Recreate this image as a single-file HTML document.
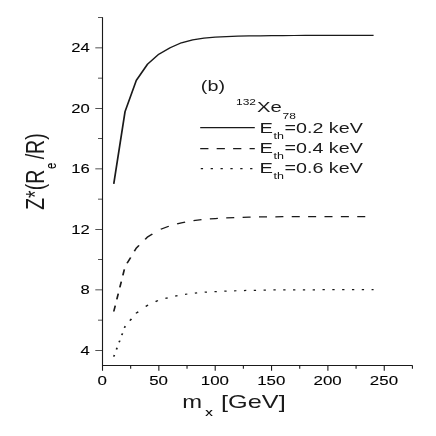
<!DOCTYPE html><html><head><meta charset="utf-8"><style>html,body{margin:0;padding:0;background:#fff;overflow:hidden}svg{display:block;will-change:transform;filter:grayscale(1)}text{font-family:"Liberation Sans",sans-serif;fill:#1a1a1a}text.s{fill:#000;stroke:#000;stroke-width:0.1px}text.x{fill:#111}</style></head><body>
<svg width="436" height="436" viewBox="0 0 436 436">
<rect width="436" height="436" fill="#fff"/>
<g transform="scale(1.36,1)" fill="none" stroke="#1a1a1a" stroke-width="0.82">
<path d="M75.37,17.3V365.50H303.38"/>
<path stroke-width="0.8" d="M75.37,350.35h-5.30M75.37,320.10h-3.30M75.37,289.85h-5.30M75.37,259.60h-3.30M75.37,229.35h-5.30M75.37,199.10h-3.30M75.37,168.85h-5.30M75.37,138.60h-3.30M75.37,108.35h-5.30M75.37,78.10h-3.30M75.37,47.85h-5.30M75.37,17.60h-3.30M75.37,365.50v5.20M96.08,365.50v3.20M116.80,365.50v5.20M137.52,365.50v3.20M158.24,365.50v5.20M178.95,365.50v3.20M199.67,365.50v5.20M220.39,365.50v3.20M241.10,365.50v5.20M261.82,365.50v3.20M282.54,365.50v5.20M303.25,365.50v3.20"/>
<polyline stroke-width="1.25" stroke-linejoin="round" points="83.65,183.90 91.94,111.65 100.23,80.40 108.51,64.15 116.80,54.20 125.09,47.70 133.37,42.80 141.66,39.80 149.95,38.10 158.24,37.20 166.52,36.60 174.81,36.20 183.10,35.95 191.38,35.80 199.67,35.65 207.96,35.55 216.24,35.50 224.53,35.45 232.82,35.40 241.10,35.40 249.39,35.40 257.68,35.40 265.96,35.40 274.69,35.40"/>
<path stroke-width="1.25" d="M83.65,311.50L84.75,305.60M85.88,299.46L86.97,293.56M88.11,287.42L89.20,281.52M90.34,275.38L91.43,269.48M93.44,263.34L96.07,257.44M98.80,251.30L100.23,248.10L102.23,245.40M106.77,239.26L108.51,236.90L112.05,233.95M118.19,229.29L124.09,226.30M130.23,223.94L133.37,222.80L136.13,222.13M142.27,220.70L148.17,219.70M154.31,218.98L158.24,218.60L160.21,218.43M166.35,217.91L166.52,217.90L172.25,217.55M178.39,217.27L183.10,217.10L184.29,217.07M190.43,216.92L191.38,216.90L196.33,216.84M202.47,216.77L207.96,216.70L208.37,216.70M214.51,216.66L216.24,216.65L220.41,216.62M226.55,216.60L232.45,216.60M238.59,216.60L241.10,216.60L244.49,216.60M250.63,216.60L256.53,216.60M262.67,216.60L265.96,216.60L268.57,216.60"/>
<path stroke-width="1.25" d="M83.65,356.70L84.12,355.00M85.63,349.48L86.09,347.78M87.60,342.26L88.07,340.56M89.58,335.04L90.04,333.34M91.55,327.82L91.94,326.40L92.12,326.12M95.55,320.60L96.61,318.90M100.05,313.38L100.23,313.10L101.65,311.76M107.17,306.57L108.51,305.30L108.87,305.08M114.39,301.61L116.09,300.55M121.61,298.42L123.31,297.82M128.83,296.12L130.53,295.62M136.05,294.32L137.75,294.01M143.27,293.09L144.97,292.86M150.49,292.16L152.19,292.04M157.71,291.64L158.24,291.60L159.41,291.53M164.93,291.20L166.52,291.10L166.63,291.09M172.15,290.83L173.85,290.75M179.37,290.53L181.07,290.47M186.59,290.32L188.29,290.27M193.81,290.14L195.51,290.10M201.03,289.98L202.73,289.96M208.25,289.90L209.95,289.89M215.47,289.85L216.24,289.85L217.17,289.84M222.69,289.81L224.39,289.80M229.91,289.77L231.61,289.76M237.13,289.72L238.83,289.71M244.35,289.70L246.05,289.70M251.57,289.70L253.27,289.70M258.79,289.70L260.49,289.70M266.01,289.70L267.71,289.70M273.23,289.70L274.69,289.70"/>
<path stroke-width="1.25" d="M147.21,127.5H187.35"/>
<path stroke-width="1.25" d="M147.21,148.50L153.26,148.50M159.31,148.50L165.36,148.50M171.41,148.50L177.46,148.50M183.51,148.50L187.35,148.50"/>
<path stroke-width="1.25" d="M147.61,168.50L149.31,168.50M154.87,168.50L156.57,168.50M162.13,168.50L163.83,168.50M169.39,168.50L171.09,168.50M176.65,168.50L178.35,168.50M183.91,168.50L185.61,168.50"/>
</g>
<text transform="translate(102.20,385.00) scale(1.29,1)" font-size="13.1" text-anchor="middle" class="s">0</text>
<text transform="translate(158.55,385.00) scale(1.29,1)" font-size="13.1" text-anchor="middle" class="s">50</text>
<text transform="translate(214.90,385.00) scale(1.29,1)" font-size="13.1" text-anchor="middle" class="s">100</text>
<text transform="translate(271.25,385.00) scale(1.29,1)" font-size="13.1" text-anchor="middle" class="s">150</text>
<text transform="translate(327.60,385.00) scale(1.29,1)" font-size="13.1" text-anchor="middle" class="s">200</text>
<text transform="translate(383.95,385.00) scale(1.29,1)" font-size="13.1" text-anchor="middle" class="s">250</text>
<text transform="translate(89.80,354.90) scale(1.27,1)" font-size="13.1" text-anchor="end" class="s">4</text>
<text transform="translate(89.80,294.40) scale(1.27,1)" font-size="13.1" text-anchor="end" class="s">8</text>
<text transform="translate(89.80,233.90) scale(1.27,1)" font-size="13.1" text-anchor="end" class="s">12</text>
<text transform="translate(89.80,173.40) scale(1.27,1)" font-size="13.1" text-anchor="end" class="s">16</text>
<text transform="translate(89.80,112.90) scale(1.27,1)" font-size="13.1" text-anchor="end" class="s">20</text>
<text transform="translate(89.80,52.40) scale(1.27,1)" font-size="13.1" text-anchor="end" class="s">24</text>
<text transform="translate(200.80,91.30) scale(1.32,1)" font-size="15" text-anchor="start">(b)</text>
<text transform="translate(236.00,105.00) scale(1.36,1)" font-size="8.8" text-anchor="start" class="x">132</text>
<text transform="translate(257.00,112.10) scale(1.31,1)" font-size="15.5" text-anchor="start">Xe</text>
<text transform="translate(282.50,119.00) scale(1.36,1)" font-size="8.8" text-anchor="start" class="x">78</text>
<text transform="translate(259.50,133.00) scale(1.38,1)" font-size="14.6" text-anchor="start">E</text>
<text transform="translate(273.50,139.00) scale(1.32,1)" font-size="9.5" text-anchor="start" class="x">th</text>
<text transform="translate(284.50,133.00) scale(1.35,1)" font-size="14.6" text-anchor="start">=0.2 keV</text>
<text transform="translate(259.50,153.30) scale(1.38,1)" font-size="14.6" text-anchor="start">E</text>
<text transform="translate(273.50,159.30) scale(1.32,1)" font-size="9.5" text-anchor="start" class="x">th</text>
<text transform="translate(284.50,153.30) scale(1.35,1)" font-size="14.6" text-anchor="start">=0.4 keV</text>
<text transform="translate(259.50,173.30) scale(1.38,1)" font-size="14.6" text-anchor="start">E</text>
<text transform="translate(273.50,179.30) scale(1.32,1)" font-size="9.5" text-anchor="start" class="x">th</text>
<text transform="translate(284.50,173.30) scale(1.35,1)" font-size="14.6" text-anchor="start">=0.6 keV</text>
<text transform="translate(182.30,408.10) scale(1.3,1)" font-size="18.3" text-anchor="start">m</text>
<text transform="translate(205.30,416.00) scale(1.32,1)" font-size="11.5" text-anchor="start" class="s">x</text>
<text transform="translate(221.00,408.10) scale(1.385,1)" font-size="18.3" text-anchor="start">[GeV]</text>
<g transform="translate(43.7,209.8) rotate(-90) scale(1,1.32)">
<text x="0" y="0" font-size="19.5">Z*(R</text>
<text x="40.8" y="9" font-size="11.5" class="s">e</text>
<text x="50.5" y="0" font-size="19.5"> /R)</text>
</g>
</svg></body></html>
